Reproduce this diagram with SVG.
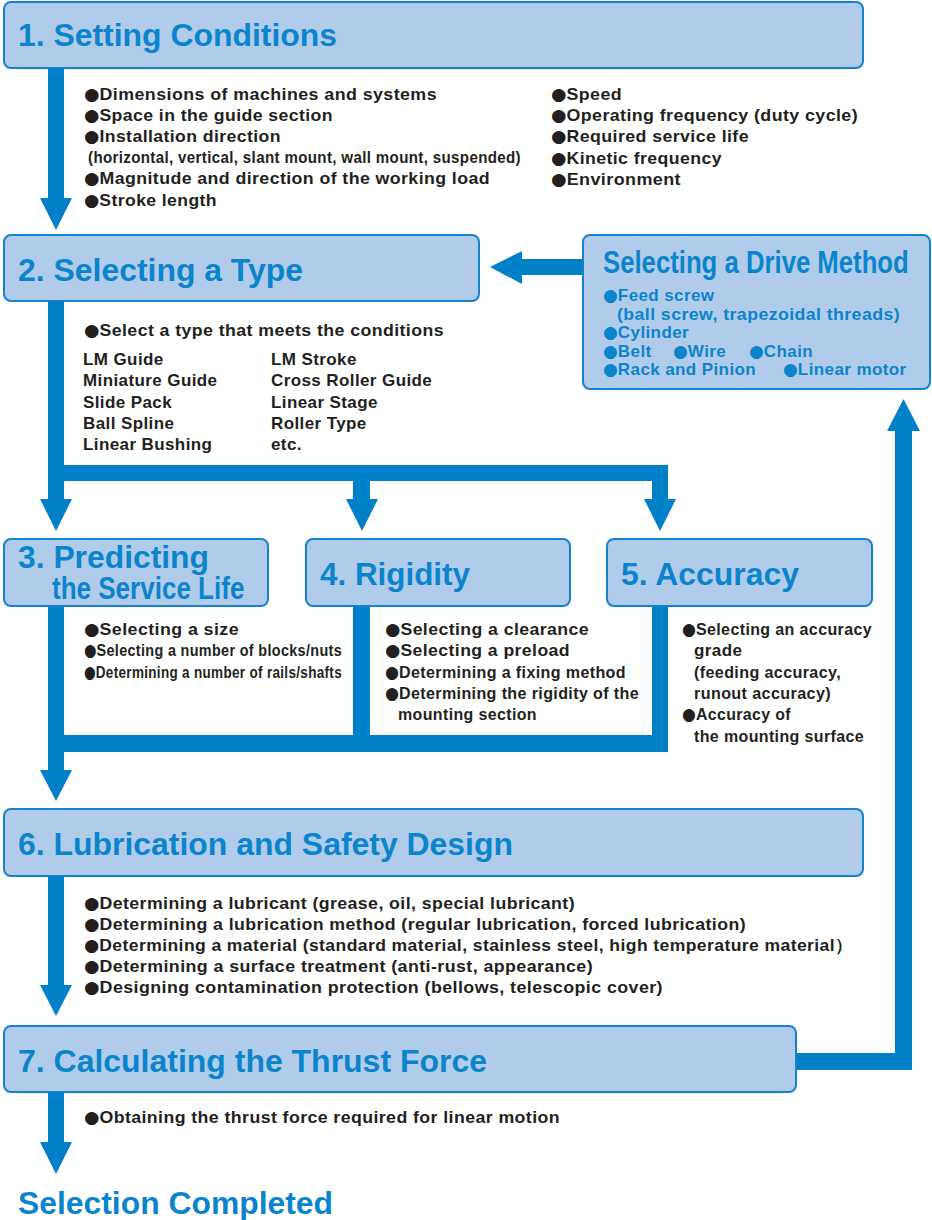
<svg xmlns="http://www.w3.org/2000/svg" width="932" height="1220" viewBox="0 0 932 1220">
<style>
.box{fill:#B0CCEA;stroke:#1384CC;stroke-width:2}
.con{fill:#0080C8}
.h{font-family:"Liberation Sans",Arial,sans-serif;font-weight:bold;font-size:31px;fill:#0A84CC}
.t{font-family:"Liberation Sans",Arial,sans-serif;font-weight:bold;font-size:17px;fill:#231F20;letter-spacing:0.4px}
.b{font-family:"Liberation Sans",Arial,sans-serif;font-weight:bold;font-size:17px;fill:#0A84CC;letter-spacing:0.4px}
.d{font-family:"DejaVu Sans",sans-serif;letter-spacing:0}
</style>
<rect width="932" height="1220" fill="#FFFFFF"/>
<g id="connectors">
  <rect class="con" x="48" y="67" width="16" height="133"/>
  <polygon class="con" points="40,198 72,198 56,230"/>
  <rect class="con" x="48" y="300" width="16" height="200"/>
  <rect class="con" x="48" y="465" width="620" height="16"/>
  <rect class="con" x="353" y="465" width="17" height="36"/>
  <rect class="con" x="652" y="465" width="16" height="36"/>
  <polygon class="con" points="40,499 72,499 56,531"/>
  <polygon class="con" points="346,499 378,499 362,531"/>
  <polygon class="con" points="644,499 676,499 660,531"/>
  <rect class="con" x="48" y="606" width="16" height="166"/>
  <rect class="con" x="353" y="606" width="17" height="146"/>
  <rect class="con" x="652" y="606" width="16" height="146"/>
  <rect class="con" x="48" y="735" width="620" height="17"/>
  <polygon class="con" points="40,770 72,770 56,801"/>
  <rect class="con" x="48" y="876" width="16" height="111"/>
  <polygon class="con" points="40,985 72,985 56,1016"/>
  <rect class="con" x="48" y="1091" width="16" height="53"/>
  <polygon class="con" points="40,1142 72,1142 56,1174"/>
  <rect class="con" x="796" y="1053" width="116" height="17"/>
  <rect class="con" x="895" y="429" width="17" height="641"/>
  <polygon class="con" points="887,431 920,431 903.5,399"/>
  <rect class="con" x="520" y="259" width="64" height="16"/>
  <polygon class="con" points="522,251 522,284 490,267"/>
</g>
<g id="node1">
  <rect class="box" x="4" y="2" width="859" height="66" rx="7"/>
  <text class="h" x="18" y="46" textLength="319" lengthAdjust="spacingAndGlyphs">1. Setting Conditions</text>
  <text class="t" x="84" y="100" textLength="353" lengthAdjust="spacingAndGlyphs"><tspan class="d">●</tspan>Dimensions of machines and systems</text>
  <text class="t" x="84" y="121" textLength="249" lengthAdjust="spacingAndGlyphs"><tspan class="d">●</tspan>Space in the guide section</text>
  <text class="t" x="84" y="142" textLength="197" lengthAdjust="spacingAndGlyphs"><tspan class="d">●</tspan>Installation direction</text>
  <text class="t" x="88" y="163" font-size="16" textLength="433" lengthAdjust="spacingAndGlyphs">(horizontal, vertical, slant mount, wall mount, suspended)</text>
  <text class="t" x="84" y="184" textLength="406" lengthAdjust="spacingAndGlyphs"><tspan class="d">●</tspan>Magnitude and direction of the working load</text>
  <text class="t" x="84" y="206" textLength="133" lengthAdjust="spacingAndGlyphs"><tspan class="d">●</tspan>Stroke length</text>
  <text class="t" x="551" y="100" textLength="71" lengthAdjust="spacingAndGlyphs"><tspan class="d">●</tspan>Speed</text>
  <text class="t" x="551" y="121" textLength="307" lengthAdjust="spacingAndGlyphs"><tspan class="d">●</tspan>Operating frequency (duty cycle)</text>
  <text class="t" x="551" y="142" textLength="198" lengthAdjust="spacingAndGlyphs"><tspan class="d">●</tspan>Required service life</text>
  <text class="t" x="551" y="164" textLength="171" lengthAdjust="spacingAndGlyphs"><tspan class="d">●</tspan>Kinetic frequency</text>
  <text class="t" x="551" y="185" textLength="130" lengthAdjust="spacingAndGlyphs"><tspan class="d">●</tspan>Environment</text>
</g>
<g id="node2">
  <rect class="box" x="4" y="235" width="475" height="66" rx="7"/>
  <text class="h" x="18" y="281" textLength="285" lengthAdjust="spacingAndGlyphs">2. Selecting a Type</text>
  <text class="t" x="84" y="336" textLength="360" lengthAdjust="spacingAndGlyphs"><tspan class="d">●</tspan>Select a type that meets the conditions</text>
  <text class="t" x="83" y="365">LM Guide</text>
  <text class="t" x="83" y="386">Miniature Guide</text>
  <text class="t" x="83" y="408">Slide Pack</text>
  <text class="t" x="83" y="429">Ball Spline</text>
  <text class="t" x="83" y="450">Linear Bushing</text>
  <text class="t" x="271" y="365">LM Stroke</text>
  <text class="t" x="271" y="386">Cross Roller Guide</text>
  <text class="t" x="271" y="408">Linear Stage</text>
  <text class="t" x="271" y="429">Roller Type</text>
  <text class="t" x="271" y="450">etc.</text>
</g>
<g id="drive">
  <rect class="box" x="583" y="235" width="347" height="154" rx="7"/>
  <text class="h" transform="translate(603,273) scale(0.83,1)" x="0" y="0">Selecting a Drive Method</text>
  <text class="b" x="603" y="301"><tspan class="d">●</tspan>Feed screw</text>
  <text class="b" x="617" y="320" textLength="283" lengthAdjust="spacingAndGlyphs">(ball screw, trapezoidal threads)</text>
  <text class="b" x="603" y="338"><tspan class="d">●</tspan>Cylinder</text>
  <text class="b" x="603" y="357"><tspan class="d">●</tspan>Belt</text>
  <text class="b" x="673" y="357"><tspan class="d">●</tspan>Wire</text>
  <text class="b" x="749" y="357"><tspan class="d">●</tspan>Chain</text>
  <text class="b" x="603" y="375"><tspan class="d">●</tspan>Rack and Pinion</text>
  <text class="b" x="783" y="375"><tspan class="d">●</tspan>Linear motor</text>
</g>
<g id="node3">
  <rect class="box" x="4" y="539" width="264" height="67" rx="7"/>
  <text class="h" x="18" y="568" textLength="191" lengthAdjust="spacingAndGlyphs">3. Predicting</text>
  <text class="h" transform="translate(52,599) scale(0.84,1)" x="0" y="0">the Service Life</text>
  <text class="t" x="84" y="635" textLength="155" lengthAdjust="spacingAndGlyphs"><tspan class="d">●</tspan>Selecting a size</text>
  <text class="t" x="84" y="656" font-size="16" textLength="258" lengthAdjust="spacingAndGlyphs"><tspan class="d">●</tspan>Selecting a number of blocks/nuts</text>
  <text class="t" x="84" y="678" font-size="16" textLength="258" lengthAdjust="spacingAndGlyphs"><tspan class="d">●</tspan>Determining a number of rails/shafts</text>
</g>
<g id="node4">
  <rect class="box" x="306" y="539" width="264" height="67" rx="7"/>
  <text class="h" x="320" y="585" textLength="150" lengthAdjust="spacingAndGlyphs">4. Rigidity</text>
  <text class="t" x="385" y="635" textLength="204" lengthAdjust="spacingAndGlyphs"><tspan class="d">●</tspan>Selecting a clearance</text>
  <text class="t" x="385" y="656" textLength="185" lengthAdjust="spacingAndGlyphs"><tspan class="d">●</tspan>Selecting a preload</text>
  <text class="t" x="385" y="678" textLength="241" lengthAdjust="spacingAndGlyphs"><tspan class="d">●</tspan>Determining a fixing method</text>
  <text class="t" x="385" y="699" textLength="254" lengthAdjust="spacingAndGlyphs"><tspan class="d">●</tspan>Determining the rigidity of the</text>
  <text class="t" x="398" y="720" textLength="139" lengthAdjust="spacingAndGlyphs">mounting section</text>
</g>
<g id="node5">
  <rect class="box" x="607" y="539" width="265" height="67" rx="7"/>
  <text class="h" x="621" y="585" textLength="178" lengthAdjust="spacingAndGlyphs">5. Accuracy</text>
  <text class="t" x="682" y="635" textLength="190" lengthAdjust="spacingAndGlyphs"><tspan class="d">●</tspan>Selecting an accuracy</text>
  <text class="t" x="694" y="656">grade</text>
  <text class="t" x="694" y="678" textLength="147" lengthAdjust="spacingAndGlyphs">(feeding accuracy,</text>
  <text class="t" x="694" y="699" textLength="137" lengthAdjust="spacingAndGlyphs">runout accuracy)</text>
  <text class="t" x="682" y="720" textLength="109" lengthAdjust="spacingAndGlyphs"><tspan class="d">●</tspan>Accuracy of</text>
  <text class="t" x="694" y="742" textLength="170" lengthAdjust="spacingAndGlyphs">the mounting surface</text>
</g>
<g id="node6">
  <rect class="box" x="4" y="809" width="859" height="67" rx="7"/>
  <text class="h" x="18" y="855" textLength="495" lengthAdjust="spacingAndGlyphs">6. Lubrication and Safety Design</text>
  <text class="t" x="84" y="909" textLength="491" lengthAdjust="spacingAndGlyphs"><tspan class="d">●</tspan>Determining a lubricant (grease, oil, special lubricant)</text>
  <text class="t" x="84" y="930" textLength="662" lengthAdjust="spacingAndGlyphs"><tspan class="d">●</tspan>Determining a lubrication method (regular lubrication, forced lubrication)</text>
  <text class="t" x="84" y="951" textLength="769" lengthAdjust="spacingAndGlyphs"><tspan class="d">●</tspan>Determining a material (standard material, stainless steel, high temperature material）</text>
  <text class="t" x="84" y="972" textLength="509" lengthAdjust="spacingAndGlyphs"><tspan class="d">●</tspan>Determining a surface treatment (anti-rust, appearance)</text>
  <text class="t" x="84" y="993" textLength="579" lengthAdjust="spacingAndGlyphs"><tspan class="d">●</tspan>Designing contamination protection (bellows, telescopic cover)</text>
</g>
<g id="node7">
  <rect class="box" x="4" y="1026" width="792" height="66" rx="7"/>
  <text class="h" x="18" y="1072" textLength="469" lengthAdjust="spacingAndGlyphs">7. Calculating the Thrust Force</text>
  <text class="t" x="84" y="1123" textLength="476" lengthAdjust="spacingAndGlyphs"><tspan class="d">●</tspan>Obtaining the thrust force required for linear motion</text>
</g>
<g id="end">
  <text class="h" x="18" y="1214" textLength="315" lengthAdjust="spacingAndGlyphs">Selection Completed</text>
</g>
</svg>
